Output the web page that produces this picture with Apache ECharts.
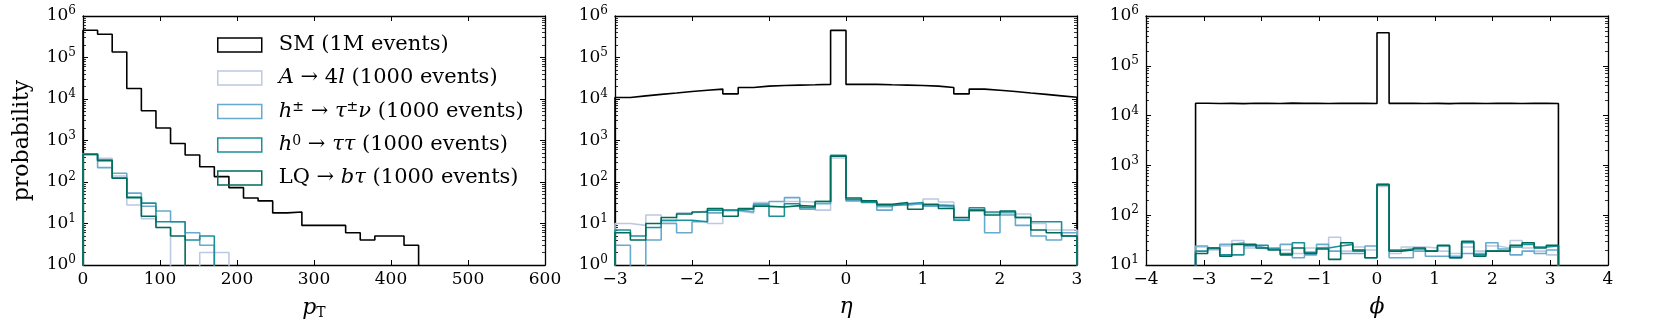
<!DOCTYPE html>
<html><head><meta charset="utf-8">
<script src="https://cdn.jsdelivr.net/npm/echarts@6/dist/echarts.min.js"></script>
<style>html,body{margin:0;padding:0;background:#fff}#c{width:1661px;height:332px}</style>
</head><body><div id="c"></div>
<script>
// ---------- data ----------
const SERIES_NAMES = ['SM (1M events)', 'A→4l (1000 events)', 'h±→τ±ν (1000 events)', 'h0→ττ (1000 events)', 'LQ→bτ (1000 events)'];
const COLORS = ['#000000', '#bdc9e1', '#67a9cf', '#1c9099', '#016c59'];

// pT histograms (bin start, bin width, counts)
const PT_START = 0, PT_BIN = 18.95;
const PT_SM  = [452000, 362000, 136000, 17900, 5200, 2000, 850, 446, 234, 135, 73, 41, 35, 18, 19, 9, 9, 9, 6, 4, 5, 5, 3];
const PT_A4L = [480, 370, 140, 28, 13, 8, 0, 0, 2, 2];
const PT_HPM = [460, 222, 163, 54, 26, 20, 11, 6, 3];
const PT_H0  = [470, 340, 125, 43, 31, 11, 11, 4, 5];
const PT_LQ  = [460, 327, 123, 42, 15, 8, 5];

// eta histograms
const ETA_START = -3, ETA_BIN = 0.2;
const ETA_SM  = [10900, 11900, 12900, 13900, 15200, 16300, 17300, 13300, 18900, 20400, 21200, 21600, 22000, 22500, 450000,
                 22500, 22500, 22000, 21600, 21200, 20400, 18900, 13300, 17300, 16300, 15200, 13900, 12900, 11900, 11000];
const ETA_A4L = [10, 9, 16, 11, 18, 20, 10, 20, 18, 32, 25, 34, 33, 21, 380, 36, 34, 25, 28, 30, 39, 33, 13, 22, 18, 17, 17, 10, 7, 7];
const ETA_HPM = [3, 0, 4, 10, 6, 11, 18, 21, 19, 30, 34, 42, 22, 30, 430, 35, 32, 21, 28, 30, 26, 25, 12, 20, 6, 16, 9, 5, 4, 6];
const ETA_H0  = [7, 5, 8, 12, 12, 11, 21, 21, 22, 28, 15, 30, 24, 34, 440, 38, 32, 27, 30, 32, 28, 27, 12, 24, 19, 19, 14, 11, 11, 5];
const ETA_LQ  = [6, 4, 10, 14, 17, 19, 23, 15, 23, 26, 25, 27, 26, 34, 420, 41, 35, 29, 32, 22, 29, 23, 14, 21, 16, 20, 14, 7, 6, 5];

// phi histograms
const PHI_START = -Math.PI, PHI_BIN = 2 * Math.PI / 30;
const PHI_SM  = [17700, 17500, 17600, 17400, 17700, 17600, 17500, 17800, 17600, 17700, 17500, 17600, 17700, 17600, 17500, 462000,
                 17600, 17700, 17500, 17600, 17400, 17700, 17600, 17500, 17700, 17600, 17500, 17600, 17700, 17500];
const PHI_A4L = [23, 20, 24, 31, 22, 21, 22, 20, 17, 22, 23, 36, 19, 23, 20, 380, 17, 23, 23, 22, 19, 17, 23, 19, 24, 22, 31, 22, 19, 16];
const PHI_HPM = [24, 21, 26, 28, 24, 22, 22, 26, 14, 16, 26, 19, 17, 17, 24, 400, 14, 14, 19, 15, 15, 15, 17, 17, 28, 21, 16, 19, 17, 20];
const PHI_H0  = [19, 22, 16, 16, 25, 25, 21, 17, 28, 18, 22, 24, 26, 19, 14, 420, 20, 21, 21, 19, 24, 14, 28, 16, 19, 19, 23, 26, 23, 24];
const PHI_LQ  = [17, 22, 15, 26, 26, 22, 20, 16, 22, 17, 21, 13, 28, 20, 14, 410, 19, 20, 22, 19, 25, 14, 30, 15, 19, 19, 25, 28, 22, 25];

// axes
const X_AXES = [
  {min: 0, max: 600, interval: 100, name: '{i|p}{sub|T}'},
  {min: -3, max: 3, interval: 1, name: '{i|η}'},
  {min: -4, max: 4, interval: 1, name: '{i|ϕ}'}
];
const Y_DECADES = [[0, 6], [0, 6], [1, 6]];

// ---------- build ----------
const FONT = 'DejaVu Serif';
const FLOOR = 1e-3;
function hist(start, width, vals) {
  const f = v => (v > 0 ? v : FLOOR);
  const pts = [[start, FLOOR]];
  vals.forEach((v, i) => {
    const x0 = start + i * width, x1 = start + (i + 1) * width;
    pts.push([x0, f(v)], [x1, f(v)]);
  });
  pts.push([start + vals.length * width, FLOOR]);
  return pts;
}
const PANELS = [
  {start: PT_START, bin: PT_BIN, data: [PT_SM, PT_A4L, PT_HPM, PT_H0, PT_LQ]},
  {start: ETA_START, bin: ETA_BIN, data: [ETA_SM, ETA_A4L, ETA_HPM, ETA_H0, ETA_LQ]},
  {start: PHI_START, bin: PHI_BIN, data: [PHI_SM, PHI_A4L, PHI_HPM, PHI_H0, PHI_LQ]}
];
const GRID_LEFT = [83, 615, 1146];
const grids = GRID_LEFT.map(l => ({left: l, top: 16, width: 462, height: 249, containLabel: false}));

const minus = v => String(v).replace('-', '\u2212');
const xAxis = [], yAxis = [], series = [];
X_AXES.forEach((ax, g) => {
  const common = {type: 'value', gridIndex: g, min: ax.min, max: ax.max, interval: ax.interval,
    axisLine: {onZero: false, lineStyle: {color: '#000', width: 1.3}},
    splitLine: {show: false}};
  xAxis.push(Object.assign({}, common, {
    position: 'bottom',
    axisTick: {inside: true, length: 5, lineStyle: {color: '#000', width: 1}},
    axisLabel: {margin: 6, color: '#000', fontFamily: FONT, fontSize: 17, formatter: minus},
    name: ax.name, nameLocation: 'middle', nameGap: 31,
    nameTextStyle: {color: '#000', fontFamily: FONT, rich: {
      i: {fontSize: 22, fontStyle: 'italic', fontFamily: FONT},
      sub: {fontSize: 14, fontFamily: FONT, padding: [10, 0, 0, 0]}
    }}
  }));
  xAxis.push(Object.assign({}, common, {
    position: 'top',
    axisTick: {inside: true, length: 5, lineStyle: {color: '#000', width: 1}},
    axisLabel: {show: false}
  }));
  const [d0, d1] = Y_DECADES[g];
  const majors = [], minors = [];
  for (let d = d0; d <= d1; d++) {
    majors.push(Math.pow(10, d));
    if (d < d1) for (let k = 2; k <= 9; k++) minors.push(k * Math.pow(10, d));
  }
  const yc = {type: 'log', logBase: 10, gridIndex: g, min: Math.pow(10, d0), max: Math.pow(10, d1),
    axisLine: {onZero: false, lineStyle: {color: '#000', width: 1.3}}, splitLine: {show: false}};
  yAxis.push(Object.assign({}, yc, {
    position: 'left',
    axisTick: {inside: true, length: 5, customValues: majors, lineStyle: {color: '#000', width: 1}},
    axisLabel: {customValues: majors, margin: 7, color: '#000', fontFamily: FONT,
      formatter: v => '{b|10}{e|' + Math.round(Math.log10(v)) + '}',
      rich: {b: {fontSize: 17, fontFamily: FONT, color: '#000', lineHeight: 22},
             e: {fontSize: 12, fontFamily: FONT, color: '#000', lineHeight: 13, verticalAlign: 'top'}}},
    name: g === 0 ? 'probability' : '', nameLocation: 'middle', nameGap: 50,
    nameTextStyle: {color: '#000', fontFamily: FONT, fontSize: 22}
  }));
  yAxis.push(Object.assign({}, yc, {
    position: 'right',
    axisTick: {inside: true, length: 5, customValues: majors, lineStyle: {color: '#000', width: 1}},
    axisLabel: {show: false}
  }));
  yAxis.push(Object.assign({}, yc, {
    position: 'left', axisLine: {show: false, onZero: false},
    axisTick: {inside: true, length: 3, customValues: minors, lineStyle: {color: '#000', width: 0.8}},
    axisLabel: {show: false}
  }));
  yAxis.push(Object.assign({}, yc, {
    position: 'right', axisLine: {show: false, onZero: false},
    axisTick: {inside: true, length: 3, customValues: minors, lineStyle: {color: '#000', width: 0.8}},
    axisLabel: {show: false}
  }));
  const p = PANELS[g];
  p.data.forEach((vals, s) => {
    series.push({
      type: 'line', name: SERIES_NAMES[s], xAxisIndex: 2 * g, yAxisIndex: 4 * g,
      data: hist(p.start, p.bin, vals), showSymbol: false, symbol: 'none', clip: true,
      lineStyle: {color: COLORS[s], width: 1.6}, itemStyle: {color: COLORS[s]},
      z: 2 + s, animation: false
    });
  });
});

const LEGEND_RICH = {
  'SM (1M events)': '{r|SM (1M events)}',
  'A→4l (1000 events)': '{i|A}{r| → 4}{i|l}{r| (1000 events)}',
  'h±→τ±ν (1000 events)': '{i|h}{sup|±}{r| → }{i|τ}{sup|±}{i|ν}{r| (1000 events)}',
  'h0→ττ (1000 events)': '{i|h}{sup|0}{r| → }{i|ττ}{r| (1000 events)}',
  'LQ→bτ (1000 events)': '{r|LQ → }{i|bτ}{r| (1000 events)}'
};

const option = {
  backgroundColor: '#fff',
  animation: false,
  grid: grids, xAxis: xAxis, yAxis: yAxis, series: series,
  legend: {
    orient: 'vertical', left: 217, top: 34.5, padding: 0, itemWidth: 44, itemHeight: 14, itemGap: 12,
    icon: 'rect', selectedMode: false,
    data: SERIES_NAMES.map((n, i) => ({name: n, icon: 'rect',
      itemStyle: {color: 'rgba(0,0,0,0)', borderColor: COLORS[i], borderWidth: 1.5}})),
    formatter: n => LEGEND_RICH[n],
    textStyle: {color: '#000', fontFamily: FONT, fontSize: 21, padding: [0, 0, 0, 12],
      rich: {
        r: {fontSize: 21, fontFamily: FONT, color: '#000', lineHeight: 22},
        i: {fontSize: 21, fontFamily: FONT, fontStyle: 'italic', color: '#000', lineHeight: 22},
        sup: {fontSize: 14, fontFamily: FONT, color: '#000', lineHeight: 15, verticalAlign: 'top'}
      }}
  }
};
const chart = echarts.init(document.getElementById('c'), null, {renderer: 'canvas'});
chart.setOption(option);
</script></body></html>
